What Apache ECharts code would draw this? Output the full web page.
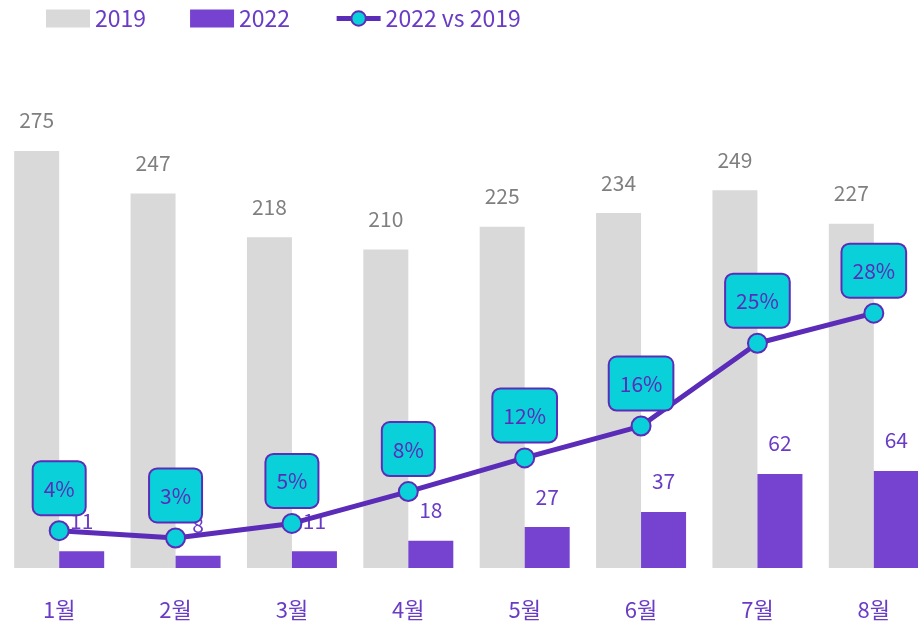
<!DOCTYPE html>
<html>
<head>
<meta charset="utf-8">
<script src="https://cdn.jsdelivr.net/npm/echarts@6/dist/echarts.min.js"></script>
<style>
	html, body { margin: 0; padding: 0; background: #fff; }
	#chart { width: 918px; height: 623px; }
</style>
</head>
<body>
<div id="chart"></div>
<script>
// 데이터
const months = ["1월", "2월", "3월", "4월", "5월", "6월", "7월", "8월"];
const values2019 = [275, 247, 218, 210, 225, 234, 249, 227];
const values2022 = [11, 8, 11, 18, 27, 37, 62, 64];
const ratioPct = [4.1, 3.3, 4.9, 8.4, 12.1, 15.6, 24.7, 28.0];

const purple = "#6a3cc6";
const linePurple = "#5b2cb8";
const cyan = "#0ad0d9";
const font = "'Noto Sans CJK KR', 'Noto Sans', sans-serif";

const chart = echarts.init(document.getElementById("chart"));

const option = {
	animation: false,
	textStyle: { fontFamily: font },
	legend: {
		top: 7,
		left: 46,
		padding: 0,
		itemWidth: 44,
		itemHeight: 18,
		itemGap: 44,
		textStyle: { color: purple, fontSize: 23, fontFamily: font, padding: [0, 0, 0, 0] },
		data: [
			{ name: "2019", icon: "rect" },
			{ name: "2022", icon: "rect" },
			{ name: "2022 vs 2019", lineStyle: { width: 5, color: linePurple } },
		],
	},
	grid: {
		left: 1,
		top: 113,
		width: 931,
		bottom: 55,
		outerBoundsMode: "none",
	},
	xAxis: {
		type: "category",
		data: months,
		axisLine: { show: false },
		axisTick: { show: false },
		axisLabel: { color: purple, fontSize: 22, margin: 31, fontFamily: font },
	},
	yAxis: [
		{ type: "value", min: 0, max: 300, show: false },
		{ type: "value", min: 0, max: 50, show: false },
	],
	series: [
		{
			name: "2019",
			type: "bar",
			data: values2019,
			barWidth: 45,
			barGap: "0%",
			itemStyle: { color: "#d9d9d9" },
			label: {
				show: true,
				position: "top",
				distance: 20,
				color: "#7f7f7f",
				fontSize: 21,
				fontFamily: font,
			},
		},
		{
			name: "2022",
			type: "bar",
			data: values2022,
			barWidth: 45,
			itemStyle: { color: "#7543d0" },
			label: {
				show: true,
				position: "top",
				distance: 20,
				color: purple,
				fontSize: 21,
				fontFamily: font,
			},
		},
		{
			name: "2022 vs 2019",
			type: "line",
			yAxisIndex: 1,
			data: ratioPct,
			symbol: "circle",
			symbolSize: 19,
			z: 5,
			lineStyle: { color: linePurple, width: 5 },
			itemStyle: { color: cyan, borderColor: linePurple, borderWidth: 2 },
			label: {
				show: true,
				position: "top",
				distance: 6,
				formatter: (p) => Math.round(p.value) + "%",
				color: linePurple,
				fontSize: 21,
				fontFamily: font,
				backgroundColor: cyan,
				borderColor: linePurple,
				borderWidth: 2,
				borderRadius: 7,
				padding: [16, 10, 15, 10],
			},
		},
	],
};

chart.setOption(option);
</script>
</body>
</html>
